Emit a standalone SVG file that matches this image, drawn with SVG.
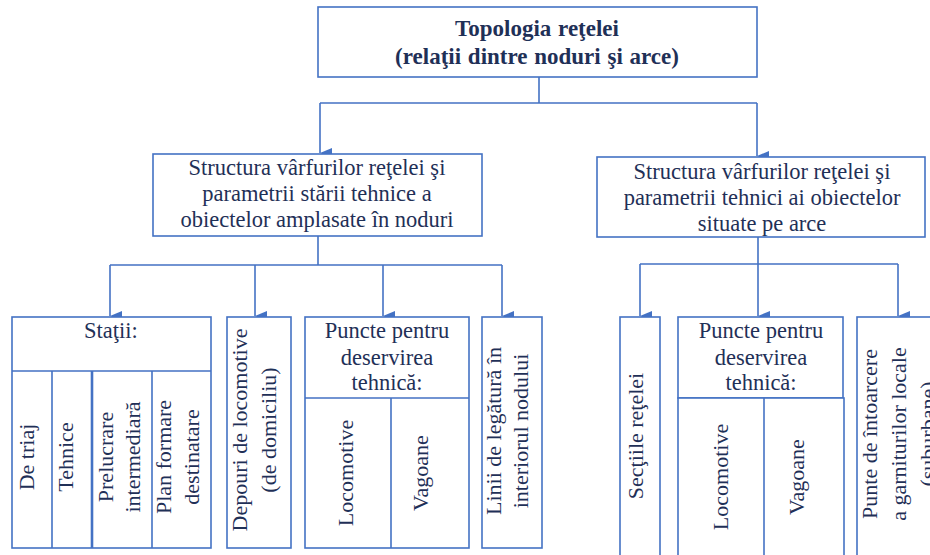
<svg xmlns="http://www.w3.org/2000/svg" width="930" height="555" viewBox="0 0 930 555">
  <defs>
    <marker id="arrow" viewBox="0 0 10 12" refX="5" refY="12" markerWidth="10" markerHeight="12" markerUnits="userSpaceOnUse" orient="auto-start-reverse">
      <path d="M0,0 L10,0 L5,12 Z" fill="#4472c4"/>
    </marker>
    <style>
      .box { fill: #ffffff; stroke: #4472c4; stroke-width: 1.6; }
      .line { fill: none; stroke: #4472c4; stroke-width: 1.6; }
      .t { font-family: 'Liberation Serif', 'DejaVu Serif', serif; font-size: 22px; fill: #1f3057; text-anchor: middle; }
      .m { font-size: 22.5px; }
      .b { font-weight: bold; font-size: 23px; word-spacing: 1px; }
    </style>
  </defs>

  <!-- connectors -->
  <g id="connectors">
    <path class="line" d="M539,77 V103 M320,103 H757"/>
    <path class="line" d="M320,103 V153" marker-end="url(#arrow)"/>
    <path class="line" d="M757,103 V156" marker-end="url(#arrow)"/>
    <path class="line" d="M318,236 V265 M110,265 H502"/>
    <path class="line" d="M110,265 V316" marker-end="url(#arrow)"/>
    <path class="line" d="M255,265 V316" marker-end="url(#arrow)"/>
    <path class="line" d="M383,265 V316" marker-end="url(#arrow)"/>
    <path class="line" d="M502,265 V316" marker-end="url(#arrow)"/>
    <path class="line" d="M758,237 V264 M640,264 H898"/>
    <path class="line" d="M640,264 V316" marker-end="url(#arrow)"/>
    <path class="line" d="M758,264 V316" marker-end="url(#arrow)"/>
    <path class="line" d="M898,264 V316" marker-end="url(#arrow)"/>
  </g>

  <!-- root -->
  <g id="root">
    <rect class="box" x="318" y="7" width="439" height="70"/>
    <text class="t b" x="537" y="36">Topologia reţelei</text>
    <text class="t b" x="537" y="64">(relaţii dintre noduri şi arce)</text>
  </g>

  <!-- nodes: left branch -->
  <g id="node-noduri">
    <rect class="box" x="153" y="154" width="329" height="82"/>
    <text class="t m" x="317" y="175">Structura vârfurilor reţelei şi</text>
    <text class="t m" x="317" y="201">parametrii stării tehnice a</text>
    <text class="t m" x="317" y="227">obiectelor amplasate în noduri</text>
  </g>

  <!-- nodes: right branch -->
  <g id="node-arce">
    <rect class="box" x="597" y="157" width="328" height="80"/>
    <text class="t m" x="762" y="179">Structura vârfurilor reţelei şi</text>
    <text class="t m" x="762" y="205">parametrii tehnici ai obiectelor</text>
    <text class="t m" x="762" y="231">situate pe arce</text>
  </g>

  <g id="node-statii">
    <rect class="box" x="12" y="317" width="199" height="231"/>
    <path class="line" d="M12,371 H211 M52,371 V548 M152,371 V548"/>
    <path class="line" d="M92,371 V548" style="stroke-width:2.6"/>
    <text class="t m" x="111" y="338">Staţii:</text>
    <g transform="translate(0,457) rotate(-90)">
      <text class="t" x="0" y="34">De triaj</text>
      <text class="t" x="0" y="73">Tehnice</text>
      <text class="t" x="0" y="113">Prelucrare</text>
      <text class="t" x="0" y="140">intermediară</text>
      <text class="t" x="0" y="171">Plan formare</text>
      <text class="t" x="0" y="199">destinatare</text>
    </g>
  </g>

  <g id="node-depouri">
    <rect class="box" x="227" y="317" width="64" height="231"/>
    <g transform="translate(0,430) rotate(-90)">
      <text class="t" x="0" y="247">Depouri de locomotive</text>
      <text class="t" x="0" y="276">(de domiciliu)</text>
    </g>
  </g>

  <g id="node-puncte-noduri">
    <rect class="box" x="305" y="317" width="164" height="231"/>
    <path class="line" d="M305,398 H469 M391,398 V548"/>
    <text class="t m" x="387" y="338">Puncte pentru</text>
    <text class="t m" x="387" y="365">deservirea</text>
    <text class="t m" x="387" y="390">tehnică:</text>
    <g transform="translate(0,473) rotate(-90)">
      <text class="t" x="0" y="353">Locomotive</text>
      <text class="t" x="0" y="428">Vagoane</text>
    </g>
  </g>

  <g id="node-linii">
    <rect class="box" x="482" y="317" width="60" height="231"/>
    <g transform="translate(0,431) rotate(-90)">
      <text class="t" x="0" y="501">Linii de legătură în</text>
      <text class="t" x="0" y="528">interiorul nodului</text>
    </g>
  </g>

  <g id="node-sectii">
    <rect class="box" x="620" y="317" width="40" height="250"/>
    <g transform="translate(0,436) rotate(-90)">
      <text class="t" x="0" y="643">Secţiile reţelei</text>
    </g>
  </g>

  <g id="node-puncte-arce">
    <rect class="box" x="678" y="317" width="165" height="81"/>
    <rect class="box" x="678" y="398" width="166" height="170"/>
    <path class="line" d="M764,398 V568"/>
    <text class="t m" x="761" y="338">Puncte pentru</text>
    <text class="t m" x="761" y="365">deservirea</text>
    <text class="t m" x="761" y="390">tehnică:</text>
    <g transform="translate(0,477) rotate(-90)">
      <text class="t" x="0" y="728">Locomotive</text>
      <text class="t" x="0" y="804">Vagoane</text>
    </g>
  </g>

  <g id="node-punte">
    <rect class="box" x="857" y="317" width="90" height="250"/>
    <g transform="translate(0,434) rotate(-90)">
      <text class="t" x="0" y="877">Punte de întoarcere</text>
      <text class="t" x="0" y="906">a garniturilor  locale</text>
      <text class="t" x="0" y="935">(suburbane)</text>
    </g>
  </g>
</svg>
